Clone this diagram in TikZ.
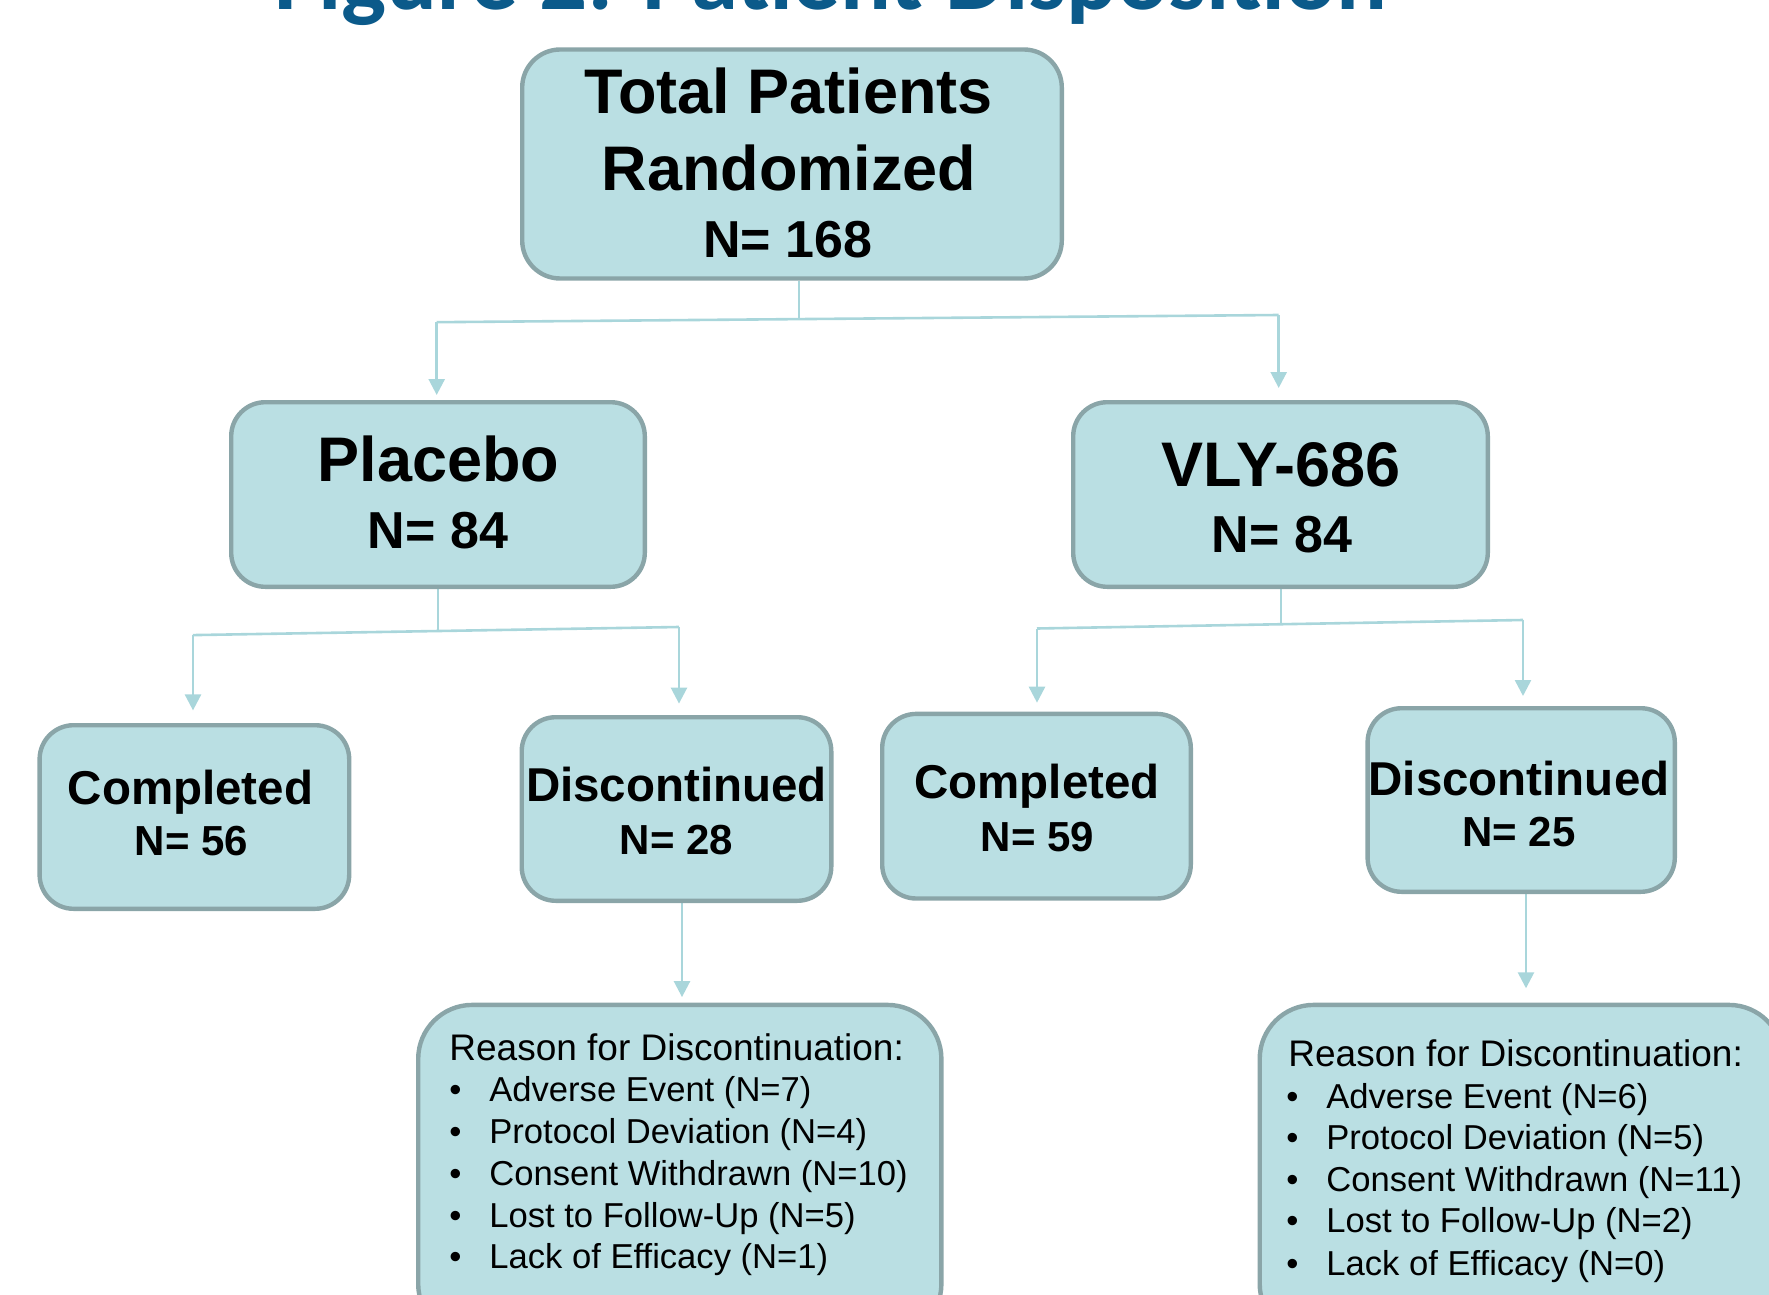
\documentclass[tikz,border=0pt]{standalone}
\usepackage{fontspec}
\setmainfont{Liberation Sans}
\newfontfamily\titlefont{Carlito}
\usetikzlibrary{arrows.meta}
\definecolor{boxfill}{HTML}{BADFE3}
\definecolor{boxline}{HTML}{8AA5A8}
\definecolor{linkcol}{HTML}{A9D6DB}
\definecolor{titleblue}{HTML}{0B5A8A}
\newcommand\myfs[1]{\fontsize{#1}{#1}\selectfont}
\newcommand\bul{\makebox[20pt][l]{\textbullet}}
\pgfdeclarelayer{bg}
\pgfsetlayers{bg,main}
\begin{document}
\begin{tikzpicture}[x=0.5pt,y=-0.5pt,
  box/.style={draw=boxline, line width=2.2pt, fill=boxfill, inner sep=0pt},
  lvl/.style={box, rounded corners=17pt},
  conn/.style={draw=linkcol, line width=1.3pt},
  arr/.style={conn, -{Triangle[width=8pt,length=8pt]}},
  bigtxt/.style={anchor=base, inner sep=0pt, font=\bfseries\myfs{31.5}},
  midtxt/.style={anchor=base, inner sep=0pt, font=\bfseries\myfs{26}},
  smtxt/.style={anchor=base, inner sep=0pt, font=\bfseries\myfs{23.75}},
  smn/.style={anchor=base, inner sep=0pt, font=\bfseries\myfs{21}},
  rtxt/.style={anchor=base west, inner sep=0pt, font=\myfs{18.5}},
  itxt/.style={anchor=base west, inner sep=0pt, font=\myfs{17.3}}
]
\useasboundingbox (0,0) rectangle (1769,1295);

% title (cut off at top)
\node[anchor=base, inner sep=0pt, font=\titlefont\bfseries\myfs{47.5}, text=titleblue] (title) at (831,10) {Figure 2: Patient Disposition};

% boxes
\node[box, rounded corners=19pt, minimum width=269.8pt, minimum height=114.5pt] (top) at (792,164) {};
\node[lvl, minimum width=206.8pt, minimum height=92.3pt] (placebo) at (438,494.5) {};
\node[lvl, minimum width=207.3pt, minimum height=92.3pt] (vly) at (1280.5,494.5) {};
\node[lvl, minimum width=154.8pt, minimum height=91.8pt] (compP) at (194.4,817) {};
\node[lvl, minimum width=154.8pt, minimum height=91.8pt] (discP) at (676.5,809) {};
\node[lvl, minimum width=154.3pt, minimum height=92.3pt] (compV) at (1036.5,806.2) {};
\node[lvl, minimum width=153.6pt, minimum height=91.8pt] (discV) at (1521.2,800) {};
\node[box, rounded corners=27pt, minimum width=261.6pt, minimum height=166.5pt] (reasonL) at (679.8,1171.4) {};
\node[box, rounded corners=27pt, minimum width=261.6pt, minimum height=166.5pt] (reasonR) at (1521.3,1171.4) {};

% texts
\node[bigtxt] (t1) at (788.5,114) {Total Patients};
\node[bigtxt] (t2) at (789,191) {Randomized};
\node[midtxt] (t3) at (788,257) {N= 168};

\node[bigtxt] (p1) at (438.5,481.7) {Placebo};
\node[midtxt] (p2) at (438,548.3) {N= 84};
\node[bigtxt] (v1) at (1281,486.7) {VLY-686};
\node[midtxt] (v2) at (1282,552.7) {N= 84};

\node[smtxt] (cp1) at (190.5,804) {Completed};
\node[smn] (cp2) at (191.5,855) {N= 56};
\node[smtxt] (dp1) at (676.5,801.7) {Discontinued};
\node[smn] (dp2) at (676.5,854) {N= 28};
\node[smtxt] (cv1) at (1037,798) {Completed};
\node[smn] (cv2) at (1037.5,851.7) {N= 59};
\node[smtxt] (dv1) at (1519,795) {Discontinued};
\node[smn] (dv2) at (1519,846.7) {N= 25};

\node[rtxt] (rl0) at (449,1060) {Reason for Discontinuation:};
\node[itxt] (rl1) at (449,1101) {\bul Adverse Event (N=7)};
\node[itxt] (rl2) at (449,1143) {\bul Protocol Deviation (N=4)};
\node[itxt] (rl3) at (449,1185) {\bul Consent Withdrawn (N=10)};
\node[itxt] (rl4) at (449,1227) {\bul Lost to Follow-Up (N=5)};
\node[itxt] (rl5) at (449,1268.5) {\bul Lack of Efficacy (N=1)};

\node[rtxt] (rr0) at (1288,1066.7) {Reason for Discontinuation:};
\node[itxt] (rr1) at (1286,1108.3) {\bul Adverse Event (N=6)};
\node[itxt] (rr2) at (1286,1149.3) {\bul Protocol Deviation (N=5)};
\node[itxt] (rr3) at (1286,1191.7) {\bul Consent Withdrawn (N=11)};
\node[itxt] (rr4) at (1286,1232.7) {\bul Lost to Follow-Up (N=2)};
\node[itxt] (rr5) at (1286,1275) {\bul Lack of Efficacy (N=0)};

% connectors
\coordinate (j0) at (799,319.1);
\coordinate (hL0) at (436.7,322.2);
\coordinate (hR0) at (1278.7,315.0);
\coordinate (j1) at (438,631);
\coordinate (hL1) at (193,635.1);
\coordinate (hR1) at (679,627);
\coordinate (j2) at (1281,625);
\coordinate (hL2) at (1037,628.5);
\coordinate (hR2) at (1523,620);
\coordinate (c1) at (682,0);
\coordinate (c2) at (1526,0);

\begin{pgfonlayer}{bg}
\draw[conn] (top.south -| j0) -- (j0);
\draw[conn] (hL0) -- (hR0);
\draw[arr, shorten >=2.5pt] (hL0) -- (hL0 |- placebo.north);
\draw[arr, shorten >=6pt] (hR0) -- (hR0 |- vly.north);

\draw[conn] (placebo.south -| j1) -- (j1);
\draw[conn] (hL1) -- (hR1);
\draw[arr, shorten >=6.3pt] (hL1) -- (hL1 |- compP.north);
\draw[arr, shorten >=5.7pt] (hR1) -- (hR1 |- discP.north);

\draw[conn] (vly.south -| j2) -- (j2);
\draw[conn] (hL2) -- (hR2);
\draw[arr, shorten >=4.5pt] (hL2) -- (hL2 |- compV.north);
\draw[arr, shorten >=5pt] (hR2) -- (hR2 |- discV.north);

\draw[arr, shorten >=2.8pt] (discP.south -| c1) -- (reasonL.north -| c1);
\draw[arr, shorten >=7.2pt] (discV.south -| c2) -- (reasonR.north -| c2);
\end{pgfonlayer}
\end{tikzpicture}
\end{document}
